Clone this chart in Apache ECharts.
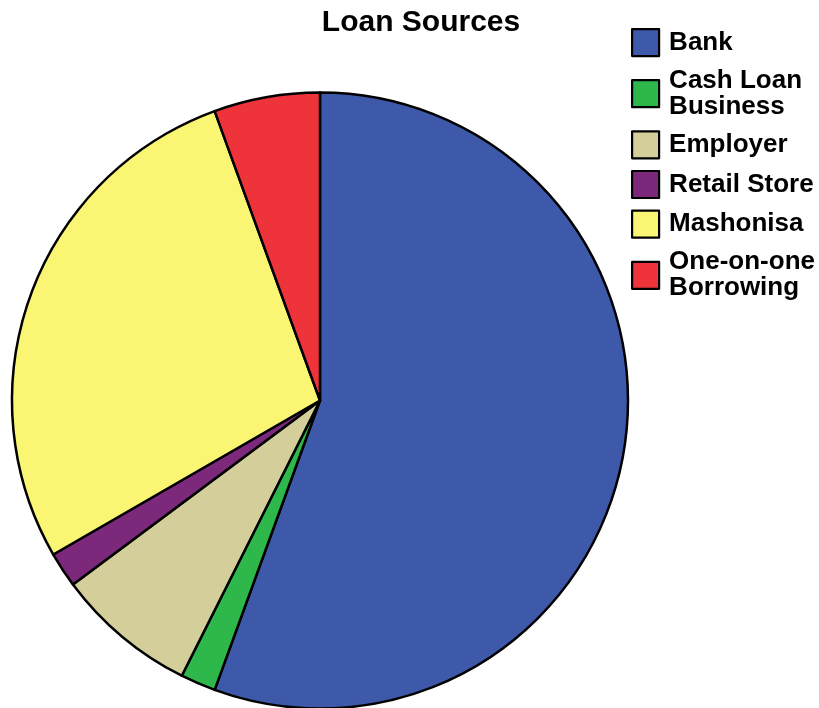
<!DOCTYPE html>
<html>
<head>
<meta charset="utf-8">
<script src="https://cdn.jsdelivr.net/npm/echarts@6/dist/echarts.min.js"></script>
<style>
html,body{margin:0;padding:0;background:#fff;}
#c{width:819px;height:708px;}
</style>
</head>
<body>
<div id="c"></div>
<script>
const categories = ['Bank', 'Cash Loan\nBusiness', 'Employer', 'Retail Store', 'Mashonisa', 'One-on-one\nBorrowing'];
const values = [30, 1, 4, 1, 15, 3];
const colors = ['#3E59AA', '#2EB84C', '#D4CE9A', '#7C297C', '#FAF674', '#EE333A'];
const titleText = 'Loan Sources';

const chart = echarts.init(document.getElementById('c'), null, {renderer: 'canvas'});
chart.setOption({
  animation: false,
  backgroundColor: '#ffffff',
  title: {
    text: titleText,
    left: 416,
    textAlign: 'center',
    top: 3,
    padding: 5,
    textStyle: {fontFamily: 'Liberation Sans, Arial, sans-serif', fontWeight: 'bold', fontSize: 30, color: '#000'}
  },
  legend: {
    orient: 'vertical',
    left: 626,
    top: 23,
    padding: 5,
    itemWidth: 27,
    itemHeight: 27,
    itemGap: 10.5,
    icon: 'rect',
    selectedMode: false,
    itemStyle: {borderColor: '#000', borderWidth: 2.2},
    textStyle: {fontFamily: 'Liberation Sans, Arial, sans-serif', fontWeight: 'bold', fontSize: 26, lineHeight: 26, color: '#000', padding: [0, 0, 0, 5]}
  },
  series: [{
    type: 'pie',
    center: [320, 400.5],
    radius: [0, 308],
    startAngle: 90,
    clockwise: true,
    label: {show: false},
    labelLine: {show: false},
    emphasis: {disabled: true},
    itemStyle: {borderColor: '#000', borderWidth: 2.5},
    data: categories.map((c, i) => ({name: c, value: values[i], itemStyle: {color: colors[i]}}))
  }]
});
</script>
</body>
</html>
